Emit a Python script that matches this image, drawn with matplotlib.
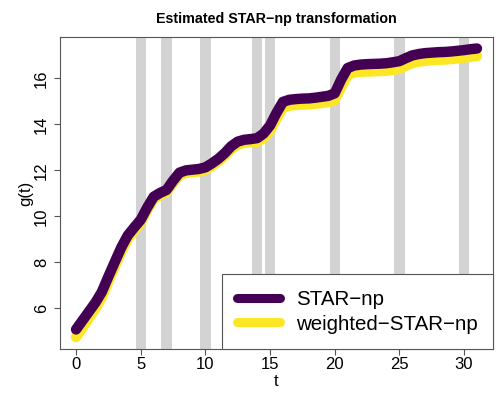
import numpy as np
import matplotlib
matplotlib.use("Agg")
import matplotlib.pyplot as plt

plt.rcParams["font.family"] = ["Liberation Sans", "DejaVu Sans"]

# time grid and estimated transformations
t = np.arange(0, 31.5, 0.5)
g_star = [5.08, 5.47, 5.86, 6.25, 6.72, 7.38, 8.02, 8.65, 9.17, 9.52,
          9.85, 10.38, 10.85, 11.02, 11.15, 11.55, 11.9, 12.0, 12.03, 12.06,
          12.13, 12.3, 12.5, 12.75, 13.05, 13.25, 13.33, 13.36, 13.4, 13.6,
          13.95, 14.5, 14.98, 15.07, 15.1, 15.12, 15.13, 15.16, 15.2, 15.24,
          15.35, 15.95, 16.45, 16.56, 16.6, 16.62, 16.63, 16.64, 16.66, 16.7,
          16.75, 16.88, 17.0, 17.06, 17.1, 17.12, 17.14, 17.15, 17.17, 17.2,
          17.23, 17.27, 17.3]
g_weighted = [4.75, 5.16, 5.58, 5.99, 6.48, 7.16, 7.82, 8.47, 9.01, 9.38,
              9.73, 10.27, 10.75, 10.92, 11.05, 11.45, 11.79, 11.89, 11.92, 11.95,
              12.02, 12.19, 12.39, 12.64, 12.93, 13.12, 13.2, 13.22, 13.24, 13.4,
              13.72, 14.25, 14.73, 14.82, 14.84, 14.86, 14.87, 14.9, 14.93, 14.97,
              15.06, 15.62, 16.14, 16.26, 16.29, 16.3, 16.31, 16.32, 16.33, 16.37,
              16.42, 16.55, 16.67, 16.73, 16.77, 16.79, 16.81, 16.82, 16.84, 16.87,
              16.9, 16.94, 16.97]
marked_t = [5, 7, 10, 14, 15, 20, 25, 30]
labels = ["STAR\u2212np", "weighted\u2212STAR\u2212np"]

edge = "#555555"

fig = plt.figure(figsize=(4.98, 3.99), dpi=100)
ax = fig.add_axes([60 / 498, 1 - 349 / 399, 433 / 498, 312 / 399])

for v in marked_t:
    ax.axvspan(v - 0.4, v + 0.4, color="lightgray", lw=0, zorder=1)

l1, = ax.plot(t, g_star, color="#440154", lw=7.5, solid_capstyle="round",
              solid_joinstyle="round", zorder=2)
l2, = ax.plot(t, g_weighted, color="#FDE725", lw=7.5, solid_capstyle="round",
              solid_joinstyle="round", zorder=1.5)

ax.set_xlim(-1.24, 32.24)
ax.set_ylim(4.23, 17.8)
ax.set_xticks([0, 5, 10, 15, 20, 25, 30])
ax.set_yticks([6, 8, 10, 12, 14, 16])
ax.tick_params(length=4, width=0.8, color=edge, labelsize=12, pad=2)
ax.tick_params(axis="y", labelrotation=90, pad=4)
for lab in ax.get_yticklabels():
    lab.set_va("center")
for s in ax.spines.values():
    s.set_color(edge)
    s.set_linewidth(0.8)

leg = ax.legend([l1, l2], labels, loc="lower right", bbox_to_anchor=(1, 0),
                borderaxespad=0, fancybox=False, edgecolor=edge, framealpha=1,
                fontsize=14.8, handlelength=2.1, handletextpad=0.75,
                borderpad=0.75, labelspacing=0.28)
leg.get_frame().set_linewidth(0.8)
for h in leg.get_lines():
    h.set_linewidth(6.5)
leg.set_zorder(5)

fig.text(276 / 498, 1 - 19 / 399, "Estimated STAR\u2212np transformation",
         ha="center", va="center", fontsize=10.3, fontweight="bold")
fig.text(276 / 498, 1 - 382 / 399, "t", ha="center", va="center", fontsize=12)
fig.text(26 / 498, 1 - 193 / 399, "g(t)", ha="center", va="center",
         rotation=90, fontsize=12)

fig.savefig("out.png", dpi=100)
